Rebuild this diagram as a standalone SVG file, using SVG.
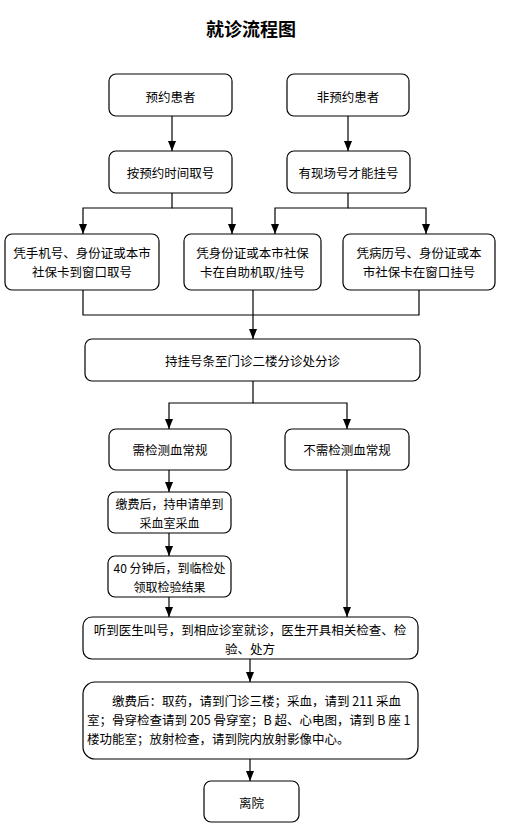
<svg xmlns="http://www.w3.org/2000/svg" width="505" height="834" viewBox="0 0 505 834">
<style>
.n rect{fill:#fff;stroke:#000;stroke-width:1.2}
text{font-family:"Noto Sans CJK SC","Noto Sans",sans-serif;font-size:12.5px;fill:#000;dominant-baseline:central}
.c{text-anchor:middle}
.s{font-size:12px}
.title{font-size:18px;font-weight:bold}
#connectors path{fill:none;stroke:#000;stroke-width:1.2}
</style>
<defs>
<marker id="ah" markerUnits="userSpaceOnUse" markerWidth="10" markerHeight="10" viewBox="0 0 10 10" refX="10" refY="5" orient="auto">
<path d="M0,1 L10,5 L0,9 Z" fill="#000"/>
</marker>
</defs>
<rect width="505" height="834" fill="#fff"/>
<text class="c title" x="251" y="28">就诊流程图</text>
<g id="connectors">
<path d="M172,116 V151" marker-end="url(#ah)"/>
<path d="M348,116 V151" marker-end="url(#ah)"/>
<path d="M172,193 V208 H83 V234" marker-end="url(#ah)"/>
<path d="M172,208 H232 V234" marker-end="url(#ah)"/>
<path d="M348,193 V208 H275 V234" marker-end="url(#ah)"/>
<path d="M348,208 H426 V234" marker-end="url(#ah)"/>
<path d="M83,290 V315 H419 V290"/>
<path d="M253,290 V339" marker-end="url(#ah)"/>
<path d="M253,381 V403 H169 V429" marker-end="url(#ah)"/>
<path d="M253,403 H347 V429" marker-end="url(#ah)"/>
<path d="M169,470 V492" marker-end="url(#ah)"/>
<path d="M169,533 V556" marker-end="url(#ah)"/>
<path d="M169,597 V617" marker-end="url(#ah)"/>
<path d="M347,470 V617" marker-end="url(#ah)"/>
<path d="M250,659 V682" marker-end="url(#ah)"/>
<path d="M250,759 V781" marker-end="url(#ah)"/>
</g>
<g id="n1" class="n"><rect x="109" y="74" width="123" height="42" rx="7"/><text class="c" x="170.5" y="96">预约患者</text></g>
<g id="n2" class="n"><rect x="287" y="74" width="122" height="42" rx="7"/><text class="c" x="348" y="96">非预约患者</text></g>
<g id="n3" class="n"><rect x="109" y="151" width="123" height="42" rx="7"/><text class="c" x="170.5" y="172">按预约时间取号</text></g>
<g id="n4" class="n"><rect x="287" y="151" width="123" height="42" rx="7"/><text class="c" x="348.5" y="172">有现场号才能挂号</text></g>
<g id="n5" class="n"><rect x="5" y="234" width="154" height="56" rx="7"/><text class="c" x="82" y="252">凭手机号、身份证或本市</text><text class="c" x="82" y="271">社保卡到窗口取号</text></g>
<g id="n6" class="n"><rect x="184" y="234" width="137" height="56" rx="7"/><text class="c" x="252.5" y="252">凭身份证或本市社保</text><text class="c" x="252.5" y="271">卡在自助机取/挂号</text></g>
<g id="n7" class="n"><rect x="343" y="234" width="152" height="56" rx="7"/><text class="c" x="419" y="252">凭病历号、身份证或本</text><text class="c" x="419" y="271">市社保卡在窗口挂号</text></g>
<g id="n8" class="n"><rect x="85" y="339" width="335" height="42" rx="7"/><text class="c" x="252.5" y="360">持挂号条至门诊二楼分诊处分诊</text></g>
<g id="n9" class="n"><rect x="109" y="429" width="122" height="41" rx="7"/><text class="c" x="170" y="449">需检测血常规</text></g>
<g id="n10" class="n"><rect x="285" y="429" width="124" height="41" rx="7"/><text class="c" x="347" y="449">不需检测血常规</text></g>
<g id="n11" class="n"><rect x="108" y="492" width="123" height="41" rx="7"/><text class="c s" x="169.5" y="503.5">缴费后，持申请单到</text><text class="c s" x="169.5" y="522">采血室采血</text></g>
<g id="n12" class="n"><rect x="108" y="556" width="123" height="41" rx="7"/><text class="c s" x="169.5" y="567">40 分钟后，到临检处</text><text class="c s" x="169.5" y="586">领取检验结果</text></g>
<g id="n13" class="n"><rect x="83" y="617" width="335" height="42" rx="9"/><text class="c" x="250" y="629">听到医生叫号，到相应诊室就诊，医生开具相关检查、检</text><text class="c" x="250" y="648">验、处方</text></g>
<g id="n14" class="n"><rect x="83" y="682" width="335" height="77" rx="12"/><text x="112" y="700">缴费后：取药，请到门诊三楼；采血，请到 211 采血</text><text x="87" y="719">室；骨穿检查请到 205 骨穿室；B 超、心电图，请到 B 座 1</text><text x="87" y="738">楼功能室；放射检查，请到院内放射影像中心。</text></g>
<g id="n15" class="n"><rect x="204" y="781" width="95" height="41" rx="7"/><text class="c" x="251.5" y="802">离院</text></g>
</svg>
